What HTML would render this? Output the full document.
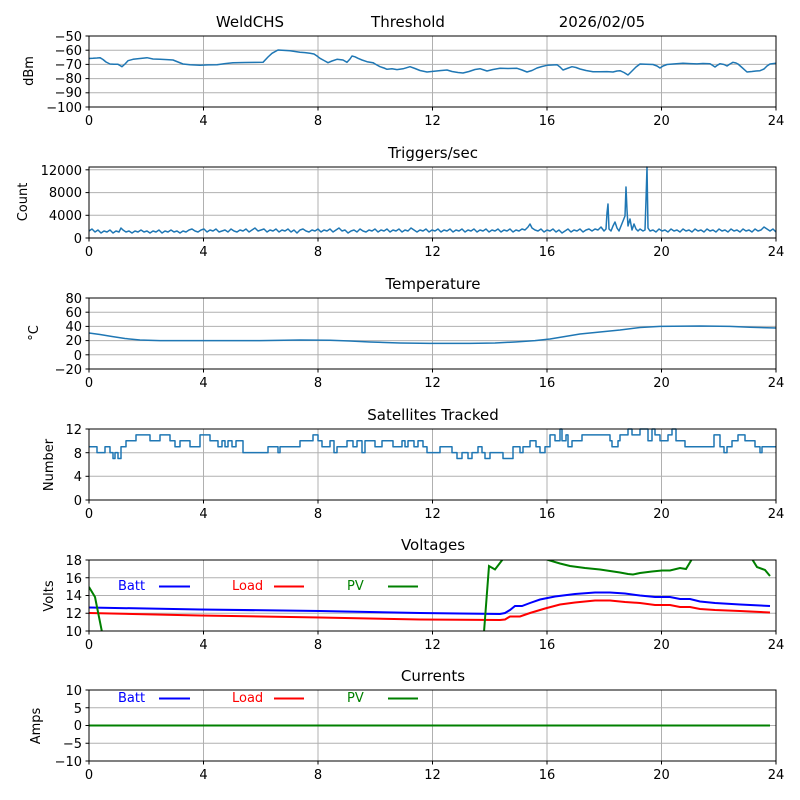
<!DOCTYPE html>
<html><head><meta charset="utf-8"><style>
html,body{margin:0;padding:0;background:#fff}
svg{display:block}
text{font-family:"DejaVu Sans","Liberation Sans",sans-serif;font-size:13px;fill:#000}
.g{stroke:#b0b0b0;stroke-width:1}
.ax{fill:none;stroke:#000;stroke-width:1}
.s{fill:none;stroke:#1f77b4;stroke-width:1.5;stroke-linejoin:round}
.yl{text-anchor:end}
.xl{text-anchor:middle}
.t{text-anchor:middle;font-size:15px}
</style></head><body>
<svg width="800" height="800" viewBox="0 0 800 800" xmlns="http://www.w3.org/2000/svg">
<defs>
<clipPath id="c5"><rect x="89" y="560" width="687" height="71"/></clipPath>
</defs>

<text x="250" y="27" class="t">WeldCHS</text>
<text x="408" y="27" class="t">Threshold</text>
<text x="602" y="27" class="t">2026/02/05</text>
<text x="433" y="158" class="t">Triggers/sec</text>
<text x="433" y="289" class="t">Temperature</text>
<text x="433" y="420" class="t">Satellites Tracked</text>
<text x="433" y="550" class="t">Voltages</text>
<text x="433" y="681" class="t">Currents</text>

<g id="vx">
<g class="g">
<line x1="203.5" y1="36" x2="203.5" y2="107"/><line x1="318" y1="36" x2="318" y2="107"/><line x1="432.5" y1="36" x2="432.5" y2="107"/><line x1="547" y1="36" x2="547" y2="107"/><line x1="661.5" y1="36" x2="661.5" y2="107"/>
</g>
<g stroke="#000">
<line x1="89" y1="107" x2="89" y2="110.5"/><line x1="203.5" y1="107" x2="203.5" y2="110.5"/><line x1="318" y1="107" x2="318" y2="110.5"/><line x1="432.5" y1="107" x2="432.5" y2="110.5"/><line x1="547" y1="107" x2="547" y2="110.5"/><line x1="661.5" y1="107" x2="661.5" y2="110.5"/><line x1="776" y1="107" x2="776" y2="110.5"/>
</g>
<text x="89" y="125" class="xl">0</text><text x="203.5" y="125" class="xl">4</text><text x="318" y="125" class="xl">8</text><text x="432.5" y="125" class="xl">12</text><text x="547" y="125" class="xl">16</text><text x="661.5" y="125" class="xl">20</text><text x="776" y="125" class="xl">24</text>
</g>
<use href="#vx" y="131"/>
<use href="#vx" y="262"/>
<use href="#vx" y="393"/>
<use href="#vx" y="524"/>
<use href="#vx" y="654"/>

<!-- Panel 1 -->
<g class="g"><line x1="89" y1="50.2" x2="776" y2="50.2"/><line x1="89" y1="64.4" x2="776" y2="64.4"/><line x1="89" y1="78.6" x2="776" y2="78.6"/><line x1="89" y1="92.8" x2="776" y2="92.8"/></g>
<g stroke="#000"><line x1="85.5" y1="36" x2="89" y2="36"/><line x1="85.5" y1="50.2" x2="89" y2="50.2"/><line x1="85.5" y1="64.4" x2="89" y2="64.4"/><line x1="85.5" y1="78.6" x2="89" y2="78.6"/><line x1="85.5" y1="92.8" x2="89" y2="92.8"/><line x1="85.5" y1="107" x2="89" y2="107"/></g>
<text x="82" y="41" class="yl">−50</text><text x="82" y="55" class="yl">−60</text><text x="82" y="69" class="yl">−70</text><text x="82" y="83" class="yl">−80</text><text x="82" y="97" class="yl">−90</text><text x="82" y="112" class="yl">−100</text>
<text transform="translate(33,71) rotate(-90)" class="xl">dBm</text>
<polyline class="s" points="89,58.5 93,58.3 97,58 100,57.7 103,59.5 106,62 110,64 114,64.2 118,64.3 120,65.5 122,66.7 125,64 128,60.7 133,59.3 140,58.5 147,57.7 153,59 160,59.3 167,59.6 173,60 178,62 183,64 190,64.8 200,65.3 208,64.9 217,64.7 225,63.6 233,62.7 245,62.5 255,62.4 263,62.3 268,57 272,53.3 278,50 284,50.4 290,50.7 295,51.5 300,52.3 305,52.6 310,53.3 314,54 317,56 320,58.3 324,60.5 328,62.7 332,61 337,59.3 340,59.6 343,60 347,62.3 350,59 352,56 355,56.8 358,58.3 362,60 367,61.7 373,62.7 376,64.5 380,66.7 384,68 387,69.3 392,68.8 397,69.6 403,68.8 410,66.7 415,68.5 420,70.5 427,72 434,71.2 440,70.6 447,70 452,71.5 458,72.5 463,73 469,71.5 475,69.5 480,68.7 484,70 487,71 493,69.5 500,68.3 508,68.5 517,68.3 522,70 527,72 532,70.5 537,68 542,66.5 547,65.3 552,65 557,64.7 560,67 563,70 567,68.5 572,66.7 576,67.5 580,69 586,70.5 593,71.7 600,71.8 607,71.6 613,72 617,71 620,70.7 624,72.5 628,75 633,70 636,67 640,64 646,64.3 653,64.5 657,66 660,68 663,66 667,64.5 673,64 678,63.6 683,63.3 690,63.6 697,63.9 703,63.5 710,63.7 712,65 715,67 717,65.5 720,63.7 724,64.5 727,66 730,64 733,62.3 736,63 738,64 742,67.5 747,72 752,71.5 756,71 760,70.7 764,69 767,66 770,64 774,63.5 776,63.3"/>
<rect x="89" y="36" width="687" height="71" class="ax"/>

<!-- Panel 2 -->
<g class="g"><line x1="89" y1="215.3" x2="776" y2="215.3"/><line x1="89" y1="192.6" x2="776" y2="192.6"/><line x1="89" y1="169.8" x2="776" y2="169.8"/></g>
<g stroke="#000"><line x1="85.5" y1="238" x2="89" y2="238"/><line x1="85.5" y1="215.3" x2="89" y2="215.3"/><line x1="85.5" y1="192.6" x2="89" y2="192.6"/><line x1="85.5" y1="169.8" x2="89" y2="169.8"/></g>
<text x="82" y="243" class="yl">0</text><text x="82" y="220" class="yl">4000</text><text x="82" y="197" class="yl">8000</text><text x="82" y="175" class="yl">12000</text>
<text transform="translate(27,202) rotate(-90)" class="xl">Count</text>
<polyline class="s" points="89,231 92,229 95,232 98,230 101,233 104,231 107,232 110,230 113,233 116,231 119,232 121,228 123,230 126,232 129,231 132,233 135,231 138,232 141,230 144,232 147,231 150,233 153,231 156,232 159,230 162,233 165,231 168,232 171,230 174,232 177,231 180,233 183,231 186,232 189,230 192,229 195,231 198,232 201,230 204,229 207,232 210,230 213,231 216,229 219,232 222,231 225,230 228,232 231,229 234,231 237,232 240,230 243,231 246,229 249,232 252,230 255,228 258,231 261,230 264,229 267,232 270,230 273,231 276,229 279,232 282,230 285,231 288,229 291,232 294,230 297,233 300,230 303,229 306,231 309,232 312,230 315,231 318,229 321,232 324,230 327,231 330,229 333,232 336,230 339,228 342,231 345,230 348,233 351,231 354,230 357,232 360,229 363,231 366,232 369,230 372,231 375,229 378,232 381,230 384,231 387,229 390,232 393,230 396,231 399,229 402,232 405,230 408,231 411,228 414,230 417,232 420,230 423,231 426,229 429,232 432,230 435,231 438,229 441,232 444,230 447,231 450,229 453,232 456,230 459,231 462,229 465,232 468,230 471,231 474,229 477,232 480,230 483,231 486,229 489,232 492,230 495,231 498,229 501,232 504,230 507,231 510,229 513,232 516,230 519,231 522,229 525,230 528,227 530,224 532,228 535,230 538,231 541,229 544,232 547,230 550,231 553,229 556,232 559,230 562,233 565,231 568,229 571,232 574,230 577,231 580,229 583,232 586,230 589,229 592,231 595,229 598,230 601,227 604,231 606,229 607,213 608,204 609,229 611,231 613,226 615,222 617,228 619,231 621,226 623,221 625,216 626,187 627,210 628,226 630,219 632,230 634,224 636,229 638,231 640,229 643,231 645,230 646,200 647,167 648,228 650,231 653,230 656,232 659,229 662,231 665,230 668,232 671,229 674,231 677,230 680,232 683,229 686,231 689,230 692,232 695,229 698,231 701,230 704,232 707,229 710,231 713,230 716,232 719,229 722,231 725,230 728,232 731,229 734,231 737,230 740,232 743,229 746,231 749,230 752,232 755,229 758,231 761,230 764,227 767,229 770,231 773,229 776,232"/>
<rect x="89" y="167" width="687" height="71" class="ax"/>

<!-- Panel 3 -->
<g class="g"><line x1="89" y1="312.2" x2="776" y2="312.2"/><line x1="89" y1="326.4" x2="776" y2="326.4"/><line x1="89" y1="340.6" x2="776" y2="340.6"/><line x1="89" y1="354.8" x2="776" y2="354.8"/></g>
<g stroke="#000"><line x1="85.5" y1="298" x2="89" y2="298"/><line x1="85.5" y1="312.2" x2="89" y2="312.2"/><line x1="85.5" y1="326.4" x2="89" y2="326.4"/><line x1="85.5" y1="340.6" x2="89" y2="340.6"/><line x1="85.5" y1="354.8" x2="89" y2="354.8"/><line x1="85.5" y1="369" x2="89" y2="369"/></g>
<text x="82" y="303" class="yl">80</text><text x="82" y="317" class="yl">60</text><text x="82" y="331" class="yl">40</text><text x="82" y="345" class="yl">20</text><text x="82" y="360" class="yl">0</text><text x="82" y="374" class="yl">−20</text>
<text transform="translate(38,333) rotate(-90)" class="xl">°C</text>
<polyline class="s" points="89,333 100,334.5 112,336.5 125,338.5 140,340 160,340.6 200,340.6 260,340.6 300,340 330,340.3 350,341 370,342 400,343 430,343.4 470,343.4 495,343 515,342 535,340.6 550,339 565,336.5 580,334 600,332 620,330 640,327.5 660,326.4 700,326 730,326.4 750,327.3 776,328"/>
<rect x="89" y="298" width="687" height="71" class="ax"/>

<!-- Panel 4 -->
<g class="g"><line x1="89" y1="476.3" x2="776" y2="476.3"/><line x1="89" y1="452.7" x2="776" y2="452.7"/></g>
<g stroke="#000"><line x1="85.5" y1="429" x2="89" y2="429"/><line x1="85.5" y1="452.7" x2="89" y2="452.7"/><line x1="85.5" y1="476.3" x2="89" y2="476.3"/><line x1="85.5" y1="500" x2="89" y2="500"/></g>
<text x="82" y="434" class="yl">12</text><text x="82" y="458" class="yl">8</text><text x="82" y="481" class="yl">4</text><text x="82" y="505" class="yl">0</text>
<text transform="translate(53,465) rotate(-90)" class="xl">Number</text>
<polyline class="s" points="89,446.7 97,446.7 97,452.6 105,452.6 105,446.7 110,446.7 110,452.6 113,452.6 113,458.5 115,458.5 115,452.6 118,452.6 118,458.5 121,458.5 121,446.7 126,446.7 126,440.8 136,440.8 136,434.9 150,434.9 150,440.8 160,440.8 160,434.9 170,434.9 170,440.8 175,440.8 175,446.7 180,446.7 180,440.8 190,440.8 190,446.7 200,446.7 200,434.9 210,434.9 210,440.8 218,440.8 218,446.7 222,446.7 222,440.8 225,440.8 225,446.7 228,446.7 228,440.8 232,440.8 232,446.7 236,446.7 236,440.8 243,440.8 243,452.6 268,452.6 268,446.7 278,446.7 278,452.6 280,452.6 280,446.7 300,446.7 300,440.8 313,440.8 313,434.9 318,434.9 318,440.8 322,440.8 322,446.7 330,446.7 330,440.8 334,440.8 334,452.6 337,452.6 337,446.7 347,446.7 347,440.8 353,440.8 353,446.7 357,446.7 357,440.8 362,440.8 362,452.6 365,452.6 365,440.8 375,440.8 375,446.7 382,446.7 382,440.8 393,440.8 393,446.7 402,446.7 402,440.8 405,440.8 405,446.7 408,446.7 408,440.8 414,440.8 414,446.7 418,446.7 418,440.8 423,440.8 423,446.7 427,446.7 427,452.6 440,452.6 440,446.7 452,446.7 452,452.6 457,452.6 457,458.5 462,458.5 462,452.6 468,452.6 468,458.5 472,458.5 472,452.6 478,452.6 478,446.7 482,446.7 482,452.6 485,452.6 485,458.5 490,458.5 490,452.6 503,452.6 503,458.5 513,458.5 513,446.7 520,446.7 520,452.6 523,452.6 523,446.7 530,446.7 530,440.8 536,440.8 536,446.7 540,446.7 540,452.6 545,452.6 545,446.7 550,446.7 550,434.9 555,434.9 555,440.8 560,440.8 560,429 562,429 562,440.8 566,440.8 566,434.9 568,434.9 568,446.7 572,446.7 572,440.8 582,440.8 582,434.9 610,434.9 610,440.8 612,440.8 612,446.7 618,446.7 618,440.8 620,440.8 620,434.9 628,434.9 628,429 632,429 632,434.9 640,434.9 640,429 648,429 648,440.8 652,440.8 652,429 655,429 655,434.9 660,434.9 660,440.8 668,440.8 668,434.9 672,434.9 672,429 676,429 676,440.8 685,440.8 685,446.7 714,446.7 714,434.9 720,434.9 720,446.7 724,446.7 724,452.6 727,452.6 727,446.7 732,446.7 732,440.8 738,440.8 738,434.9 745,434.9 745,440.8 755,440.8 755,446.7 760,446.7 760,452.6 762,452.6 762,446.7 776,446.7"/>
<rect x="89" y="429" width="687" height="71" class="ax"/>

<!-- Panel 5 -->
<g class="g"><line x1="89" y1="577.75" x2="776" y2="577.75"/><line x1="89" y1="595.5" x2="776" y2="595.5"/><line x1="89" y1="613.25" x2="776" y2="613.25"/></g>
<g stroke="#000"><line x1="85.5" y1="560" x2="89" y2="560"/><line x1="85.5" y1="577.75" x2="89" y2="577.75"/><line x1="85.5" y1="595.5" x2="89" y2="595.5"/><line x1="85.5" y1="613.25" x2="89" y2="613.25"/><line x1="85.5" y1="631" x2="89" y2="631"/></g>
<text x="82" y="565" class="yl">18</text><text x="82" y="583" class="yl">16</text><text x="82" y="600" class="yl">14</text><text x="82" y="618" class="yl">12</text><text x="82" y="636" class="yl">10</text>
<text transform="translate(53,596) rotate(-90)" class="xl">Volts</text>
<g clip-path="url(#c5)" fill="none" stroke-width="2">
<polyline stroke="#0000ff" points="89,607.5 200,609.5 320,611 420,613 500,614 505,613 510,610 515,606 522,606 530,603 540,599.5 555,596.5 575,594 595,592.5 610,592.5 625,593.5 640,595.5 655,597 670,597 680,599 690,599 700,601.5 715,603 740,604.5 770,606"/>
<polyline stroke="#ff0000" points="89,613 200,615.5 320,617.5 420,619.5 500,620 505,619.5 510,616.5 520,616.5 530,613 545,608.5 560,604.5 575,602.5 595,600.5 610,600.5 625,602 640,603 655,605 670,605 680,607 690,607 700,609 715,610 740,611 770,612.5"/>
<polyline stroke="#008000" points="89,587 95,597 102,632"/>
<polyline stroke="#008000" points="484,632 489,566 495,569.5 503,559"/>
<polyline stroke="#008000" points="544,558 548,560 560,563.5 570,566 585,568 600,569.5 610,571 620,572.5 628,574 633,574.5 640,573 652,571.5 662,570.5 670,570.5 680,568 686,569 692,559"/>
<polyline stroke="#008000" points="752,559 757,567 765,570 770,576"/>
</g>
<text x="118" y="590" style="fill:#0000ff">Batt</text>
<line x1="159" y1="586.5" x2="190" y2="586.5" stroke="#0000ff" stroke-width="2"/>
<text x="232" y="590" style="fill:#ff0000">Load</text>
<line x1="274" y1="586.5" x2="304" y2="586.5" stroke="#ff0000" stroke-width="2"/>
<text x="347" y="590" style="fill:#008000">PV</text>
<line x1="388" y1="586.5" x2="418" y2="586.5" stroke="#008000" stroke-width="2"/>
<rect x="89" y="560" width="687" height="71" class="ax"/>

<!-- Panel 6 -->
<g class="g"><line x1="89" y1="707.75" x2="776" y2="707.75"/><line x1="89" y1="725.5" x2="776" y2="725.5"/><line x1="89" y1="743.25" x2="776" y2="743.25"/></g>
<g stroke="#000"><line x1="85.5" y1="690" x2="89" y2="690"/><line x1="85.5" y1="707.75" x2="89" y2="707.75"/><line x1="85.5" y1="725.5" x2="89" y2="725.5"/><line x1="85.5" y1="743.25" x2="89" y2="743.25"/><line x1="85.5" y1="761" x2="89" y2="761"/></g>
<text x="82" y="695" class="yl">10</text><text x="82" y="713" class="yl">5</text><text x="82" y="730" class="yl">0</text><text x="82" y="748" class="yl">−5</text><text x="82" y="766" class="yl">−10</text>
<text transform="translate(40,726) rotate(-90)" class="xl">Amps</text>
<line x1="89" y1="725.5" x2="770" y2="725.5" stroke="#0000ff" stroke-width="2"/>
<line x1="89" y1="725.5" x2="770" y2="725.5" stroke="#ff0000" stroke-width="2"/>
<line x1="89" y1="725.5" x2="770" y2="725.5" stroke="#008000" stroke-width="2"/>
<text x="118" y="702" style="fill:#0000ff">Batt</text>
<line x1="159" y1="698.5" x2="190" y2="698.5" stroke="#0000ff" stroke-width="2"/>
<text x="232" y="702" style="fill:#ff0000">Load</text>
<line x1="274" y1="698.5" x2="304" y2="698.5" stroke="#ff0000" stroke-width="2"/>
<text x="347" y="702" style="fill:#008000">PV</text>
<line x1="388" y1="698.5" x2="418" y2="698.5" stroke="#008000" stroke-width="2"/>
<rect x="89" y="690" width="687" height="71" class="ax"/>
</svg>
</body></html>
